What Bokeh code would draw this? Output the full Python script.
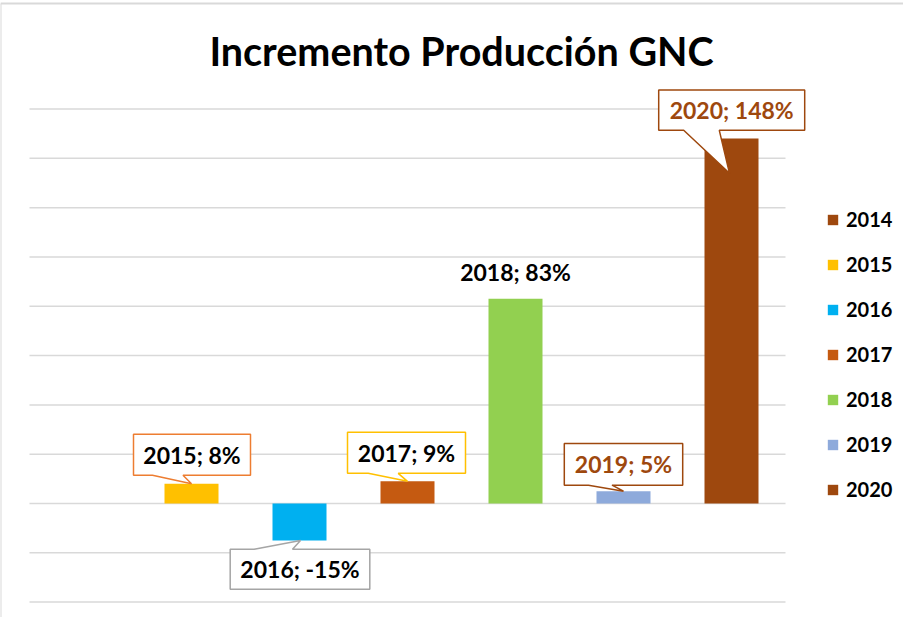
from bokeh.plotting import figure
from bokeh.models import ColumnDataSource, Range1d, Legend, LegendItem
from bokeh.core.properties import value
from bokeh.embed import file_html
from bokeh.resources import INLINE

# ---- data ----
years = ["2014", "2015", "2016", "2017", "2018", "2019", "2020"]
increments = [0, 8, -15, 9, 83, 5, 148]          # percent
bar_colors = ["#9e480e", "#ffc000", "#00b0f0", "#c55a11", "#92d050", "#8eaadb", "#9e480e"]
grid_ticks = [-40, -20, 0, 20, 40, 60, 80, 100, 120, 140, 160]
title_text = "Incremento Producción GNC"

# ---- layout constants (page pixels) ----
W, H = 903, 617
FIG_L, FIG_T = 8, 8
X0_PX, SLOT_PX = 37, 108.0
ZERO_PX, PX_PER_PCT = 511.0, 2.4655
FONT = "Lato"

def dx(px):
    return (px - X0_PX) / SLOT_PX

def dy(py):
    return (ZERO_PX - py) / PX_PER_PCT

p = figure(width=W, height=H, output_backend="svg", toolbar_location=None,
           x_range=Range1d(dx(FIG_L), dx(FIG_L + W)),
           y_range=Range1d(dy(FIG_T + H), dy(FIG_T)),
           x_axis_location=None, y_axis_location=None,
           min_border=0, min_border_left=0, min_border_right=0,
           min_border_top=0, min_border_bottom=0)
p.outline_line_color = None
p.grid.visible = False
p.background_fill_color = "white"
p.border_fill_color = "white"

# chart border (left + top)
p.segment(x0=[dx(8), dx(8)], y0=[dy(11), dy(11)], x1=[dx(8), dx(930)], y1=[dy(700), dy(11)],
          line_color="#d9d9d9", line_width=2)

# gridlines
n = len(years)
p.segment(x0=[0] * len(grid_ticks), x1=[n] * len(grid_ticks), y0=grid_ticks, y1=grid_ticks,
          line_color="#d9d9d9", line_width=1.5)

# bars
src = ColumnDataSource(dict(x=[i + 0.5 for i in range(n)], top=increments,
                            color=bar_colors, year=years))
bars = p.vbar(x="x", top="top", bottom=0, width=0.5, fill_color="color",
              line_color=None, source=src)

# title
p.text(x=[dx(469)], y=[dy(58)], text=[title_text], text_font=value(FONT),
       text_font_style="bold", text_font_size="39.5px", text_color="black",
       text_align="center", text_baseline="middle")

# callouts: (index, box L, R, T, B offsets, tail base L, R, tip dx, dy, border color, text color)
callouts = [
    (1, -58, 59, -49.5, -8.5, -39, -8.5, 0, 0, "#ed7d31", "black"),
    (2, -69.3, 70.3, 8.7, 48.7, -45.3, -7, 1, 0, "#a5a5a5", "black"),
    (3, -60, 58, -49, -8, -39.3, -9.3, 0, 0, "#ffc000", "black"),
    (5, -59.2, 59.2, -47.7, -6, -35, -11.5, 0, 0, "#9e480e", "#9e480e"),
    (6, -72.8, 73.2, -48.7, -8.3, -47.8, -12.2, -2, 34.7, "#9e480e", "#9e480e"),
]
xs, ys, lcols = [], [], []
tx, ty, tt, tc = [], [], [], []
for (i, L, R, T, B, bl, br, tipx, tipy, lc, tcol) in callouts:
    ax = X0_PX + (i + 0.5) * SLOT_PX
    ay = ZERO_PX - increments[i] * PX_PER_PCT
    l, r, t, b = ax + L, ax + R, ay + T, ay + B
    if B < 0:  # box above, tail from bottom edge
        pts = [(l, t), (r, t), (r, b), (ax + br, b), (ax + tipx, ay + tipy), (ax + bl, b), (l, b)]
    else:      # box below, tail from top edge
        pts = [(l, t), (ax + bl, t), (ax + tipx, ay + tipy), (ax + br, t), (r, t), (r, b), (l, b)]
    xs.append([dx(px) for px, _ in pts])
    ys.append([dy(py) for _, py in pts])
    lcols.append(lc)
    tx.append(dx((l + r) / 2))
    ty.append(dy((t + b) / 2))
    tt.append(f"{years[i]}; {increments[i]}%")
    tc.append(tcol)

p.patches(xs=xs, ys=ys, fill_color="white", line_color=lcols, line_width=1.5)

# 2018 plain label
i18 = years.index("2018")
tx.append(i18 + 0.5)
ty.append(increments[i18] + dy(279) - dy(306.3))
tt.append(f"{years[i18]}; {increments[i18]}%")
tc.append("black")

p.text(x=tx, y=ty, text=tt, text_color=tc, text_font=value(FONT), text_font_style="bold",
       text_font_size="23px", text_align="center", text_baseline="middle")

# legend
items = [LegendItem(label=yr, renderers=[bars], index=k) for k, yr in enumerate(years)]
legend = Legend(items=items, location=(826, 116), orientation="vertical",
                glyph_width=13, glyph_height=13, label_height=20, spacing=21,
                label_standoff=7, padding=0, margin=0,
                border_line_color=None, background_fill_alpha=0,
                label_text_font=FONT, label_text_font_style="bold",
                label_text_font_size="20px", label_text_color="black")
p.add_layout(legend)

open("out.html", "w").write(file_html(p, INLINE))
